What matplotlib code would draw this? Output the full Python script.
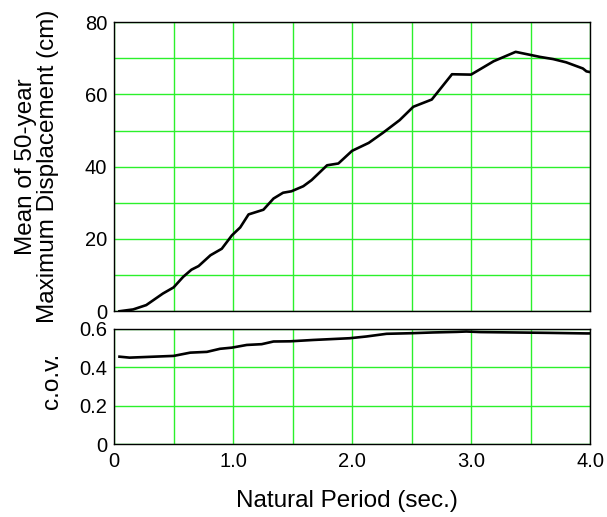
import numpy as np
import matplotlib.pyplot as plt

plt.rcParams['font.family'] = ['Liberation Sans', 'DejaVu Sans']

# -----------------------------------------------------------------------------
# values

period_mean = [0.045, 0.16, 0.27, 0.41, 0.50, 0.58, 0.65, 0.71, 0.81, 0.905,
               0.99, 1.06, 1.13, 1.255, 1.34, 1.42, 1.49, 1.59, 1.66, 1.79,
               1.885, 2.0, 2.14, 2.26, 2.40, 2.515, 2.67, 2.84, 3.0, 3.19,
               3.375, 3.58, 3.69, 3.80, 3.94, 3.97, 4.0]
disp_mean = [0.0, 0.5, 1.7, 4.9, 6.6, 9.5, 11.5, 12.5, 15.5, 17.3,
             21.0, 23.2, 26.8, 28.1, 31.2, 32.8, 33.2, 34.6, 36.3, 40.4,
             40.9, 44.4, 46.6, 49.4, 52.9, 56.6, 58.6, 65.6, 65.5, 69.2,
             71.8, 70.4, 69.8, 68.9, 67.2, 66.4, 66.2]

period_cov = [0.045, 0.13, 0.5, 0.64, 0.78, 0.89, 0.99, 1.115, 1.24, 1.34,
              1.48, 1.675, 1.98, 2.12, 2.29, 2.49, 2.68, 2.88, 2.96, 3.08,
              3.36, 3.64, 3.97, 4.0]
cov = [0.455, 0.45, 0.459, 0.476, 0.48, 0.496, 0.502, 0.516, 0.52, 0.534,
       0.535, 0.542, 0.551, 0.56, 0.574, 0.577, 0.581, 0.584, 0.586, 0.583,
       0.581, 0.579, 0.576, 0.576]

x_ticks = [0, 1.0, 2.0, 3.0, 4.0]
x_labels = ['0', '1.0', '2.0', '3.0', '4.0']

# -----------------------------------------------------------------------------

grid_col = '#2bf02b'
fs = 14.5
lfs = 17.5

fig = plt.figure(figsize=(6.07, 5.17), dpi=100)
ax1 = fig.add_axes([0.188, 0.398, 0.784, 0.559])
ax2 = fig.add_axes([0.188, 0.141, 0.784, 0.223])

ax1.plot(period_mean, disp_mean, 'k', lw=1.9, zorder=3)
ax2.plot(period_cov, cov, 'k', lw=1.9, zorder=3)

for ax in (ax1, ax2):
    ax.set_xlim(0, 4.0)
    ax.set_xticks(np.arange(0, 4.01, 0.5), minor=True)
    ax.set_xticks(x_ticks)
    ax.grid(True, which='both', color=grid_col, lw=1.0)
    ax.tick_params(which='both', length=0, labelsize=fs)
    ax.tick_params(axis='y', pad=5)
    ax.tick_params(axis='x', pad=6)
    for s in ax.spines.values():
        s.set_color('black')
        s.set_linewidth(1.0)
        s.set_zorder(4)

ax1.set_ylim(0, 80)
ax1.set_yticks([0, 20, 40, 60, 80])
ax1.set_yticks(np.arange(0, 81, 10), minor=True)
ax1.set_xticklabels([])
ax1.set_ylabel('Mean of 50-year\nMaximum Displacement (cm)', fontsize=lfs,
               linespacing=1.05)
ax1.yaxis.set_label_coords(-0.162, 0.5)
ax1.yaxis.label.set_va('center')

ax2.set_ylim(0, 0.6)
ax2.set_yticks([0, 0.2, 0.4, 0.6])
ax2.set_yticklabels(['0', '0.2', '0.4', '0.6'])
ax2.set_xticklabels(x_labels)
ax2.set_ylabel('c.o.v.', fontsize=lfs)
ax2.yaxis.set_label_coords(-0.13, 0.55)
ax2.yaxis.label.set_va('center')
ax2.set_xlabel('Natural Period (sec.)', fontsize=lfs)
ax2.xaxis.set_label_coords(0.49, -0.49)
ax2.xaxis.label.set_va('center')

fig.savefig('out.png', dpi=100)
